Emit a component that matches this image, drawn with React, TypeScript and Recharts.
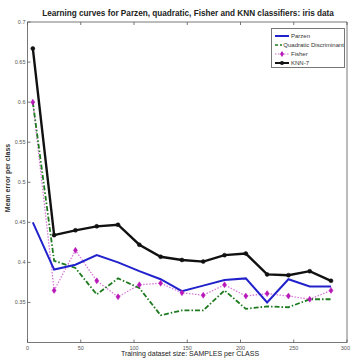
import React from "react";
import { LineChart, Line, XAxis, YAxis } from "recharts";

const samples = [5, 25, 45, 65, 85, 105, 125, 145, 165, 185, 205, 225, 245, 265, 285];
const parzen = [0.45, 0.391, 0.397, 0.409, 0.4, 0.389, 0.379, 0.364, 0.371, 0.378, 0.38, 0.35, 0.379, 0.37, 0.37];
const quadratic = [0.6, 0.402, 0.393, 0.36, 0.38, 0.368, 0.334, 0.34, 0.34, 0.365, 0.342, 0.345, 0.344, 0.354, 0.354];
const fisher = [0.6, 0.365, 0.415, 0.377, 0.357, 0.372, 0.374, 0.362, 0.359, 0.372, 0.358, 0.361, 0.358, 0.354, 0.365];
const knn = [0.667, 0.434, 0.44, 0.445, 0.447, 0.422, 0.407, 0.403, 0.401, 0.409, 0.411, 0.385, 0.384, 0.389, 0.377];

const xTicks = [0, 50, 100, 150, 200, 250, 300];
const yTicks = [0.35, 0.4, 0.45, 0.5, 0.55, 0.6, 0.65, 0.7];

const data = samples.map((s, i) => ({
  s,
  parzen: parzen[i],
  quadratic: quadratic[i],
  fisher: fisher[i],
  knn: knn[i],
}));

const FONT = "'Liberation Sans Narrow', 'Liberation Sans', Arial, sans-serif";
const AXIS = "#555";
const TICK_TEXT = "#555";

const BottomTick = (props: any) => {
  const { x, y, payload } = props;
  const last = payload.value === 300;
  return (
    <g>
      <line x1={x} y1={y} x2={x} y2={y - 3} stroke={AXIS} strokeWidth={0.8} />
      <text x={last ? x + 3 : x} y={y + 7} textAnchor={last ? "end" : "middle"} fontSize={5.5} fill={TICK_TEXT} fontFamily={FONT}>
        {String(payload.value)}
      </text>
    </g>
  );
};

const TopTick = (props: any) => {
  const { x, y } = props;
  return <line x1={x} y1={y} x2={x} y2={y + 3} stroke={AXIS} strokeWidth={0.8} />;
};

const LeftTick = (props: any) => {
  const { x, y, payload } = props;
  return (
    <g>
      <line x1={x} y1={y} x2={x + 3} y2={y} stroke={AXIS} strokeWidth={0.8} />
      <text x={x - 2} y={y + 2} textAnchor="end" fontSize={5.5} fill={TICK_TEXT} fontFamily={FONT}>
        {String(payload.value)}
      </text>
    </g>
  );
};

const RightTick = (props: any) => {
  const { x, y } = props;
  return <line x1={x} y1={y} x2={x - 3} y2={y} stroke={AXIS} strokeWidth={0.8} />;
};

const Diamond = (props: any) => {
  const { cx, cy } = props;
  if (cx == null || cy == null) return null;
  return (
    <path
      d={`M${cx},${cy - 3} L${cx + 2},${cy} L${cx},${cy + 3} L${cx - 2},${cy} Z`}
      fill="#b818b8"
      stroke="#b818b8"
      strokeWidth={0.5}
    />
  );
};

const legendItems = [
  { name: "Parzen", color: "#2222cc", dash: undefined, width: 2, marker: null },
  { name: "Quadratic Discriminant", color: "#1e7a1e", dash: "3 2", width: 1.6, marker: null },
  { name: "Fisher", color: "#d070d0", dash: "1.5 1.5", width: 1.2, marker: "diamond" },
  { name: "KNN-7", color: "#111", dash: undefined, width: 2, marker: "dot" },
];

export default function App() {
  return (
    <div style={{ position: "absolute", left: 0, top: 0, width: 353, height: 361, background: "#fff", fontFamily: FONT }}>
      <div
        style={{
          position: "absolute",
          left: 0,
          width: 376,
          top: 9,
          textAlign: "center",
          fontSize: 8.2,
          fontWeight: "bold",
          color: "#222",
          whiteSpace: "nowrap",
        }}
      >
        Learning curves for Parzen, quadratic, Fisher and KNN classifiers: iris data
      </div>
      <LineChart width={353} height={361} data={data} margin={{ top: 0, right: 0, bottom: 0, left: 0 }}>
        <XAxis
          dataKey="s"
          type="number"
          domain={[0, 300]}
          ticks={xTicks}
          height={18.5}
          tickSize={0}
          tickMargin={0}
          tickLine={false}
          tick={<BottomTick />}
          axisLine={{ stroke: AXIS, strokeWidth: 0.8 }}
          interval={0}
        />
        <XAxis
          xAxisId="top"
          orientation="top"
          dataKey="s"
          type="number"
          domain={[0, 300]}
          ticks={xTicks}
          height={22}
          tickSize={0}
          tickMargin={0}
          tickLine={false}
          tick={<TopTick />}
          axisLine={{ stroke: AXIS, strokeWidth: 0.8 }}
          interval={0}
        />
        <YAxis
          type="number"
          domain={[0.3, 0.7]}
          ticks={yTicks}
          width={27.5}
          tickSize={0}
          tickMargin={0}
          tickLine={false}
          tick={<LeftTick />}
          axisLine={{ stroke: AXIS, strokeWidth: 0.8 }}
          interval={0}
          allowDataOverflow
        />
        <YAxis
          yAxisId="right"
          orientation="right"
          type="number"
          domain={[0.3, 0.7]}
          ticks={yTicks}
          width={6}
          tickSize={0}
          tickMargin={0}
          tickLine={false}
          tick={<RightTick />}
          axisLine={{ stroke: AXIS, strokeWidth: 0.8 }}
          interval={0}
        />
        <Line
          dataKey="fisher"
          stroke="#d878d8"
          strokeWidth={1.3}
          strokeDasharray="1.5 1.5"
          dot={<Diamond />}
          isAnimationActive={false}
        />
        <Line
          dataKey="quadratic"
          stroke="#1e7a1e"
          strokeWidth={1.8}
          strokeDasharray="5 2 1.5 2"
          dot={false}
          isAnimationActive={false}
        />
        <Line dataKey="parzen" stroke="#2222cc" strokeWidth={2} dot={false} isAnimationActive={false} />
        <Line
          dataKey="knn"
          stroke="#111"
          strokeWidth={2.4}
          dot={{ r: 2, fill: "#111", stroke: "#111", strokeWidth: 0.5 }}
          isAnimationActive={false}
        />
      </LineChart>
      <div
        style={{
          position: "absolute",
          left: 271,
          top: 28,
          width: 74,
          height: 40,
          border: "0.8px solid #777",
          background: "#fff",
          boxSizing: "border-box",
          padding: "2px 0 0 2px",
        }}
      >
        {legendItems.map((it) => (
          <div key={it.name} style={{ display: "flex", alignItems: "center", height: 9, fontSize: 6, color: "#333", whiteSpace: "nowrap" }}>
            <svg width={16} height={8} style={{ marginRight: 1 }}>
              <line x1={1} y1={4} x2={15} y2={4} stroke={it.color} strokeWidth={it.width} strokeDasharray={it.dash} />
              {it.marker === "diamond" && <path d="M8,1 L10,4 L8,7 L6,4 Z" fill="#b818b8" />}
              {it.marker === "dot" && <circle cx={8} cy={4} r={2} fill="#111" />}
            </svg>
            {it.name}
          </div>
        ))}
      </div>
      <div
        style={{
          position: "absolute",
          left: 0,
          width: 380,
          top: 350,
          textAlign: "center",
          fontSize: 7,
          color: "#222",
          whiteSpace: "nowrap",
        }}
      >
        Training dataset size: SAMPLES per CLASS
      </div>
      <div
        style={{
          position: "absolute",
          left: 7,
          top: 178,
          transform: "translate(-50%, -50%) rotate(-90deg)",
          fontSize: 7,
          fontWeight: "bold",
          color: "#333",
          whiteSpace: "nowrap",
        }}
      >
        Mean error per class
      </div>
    </div>
  );
}
